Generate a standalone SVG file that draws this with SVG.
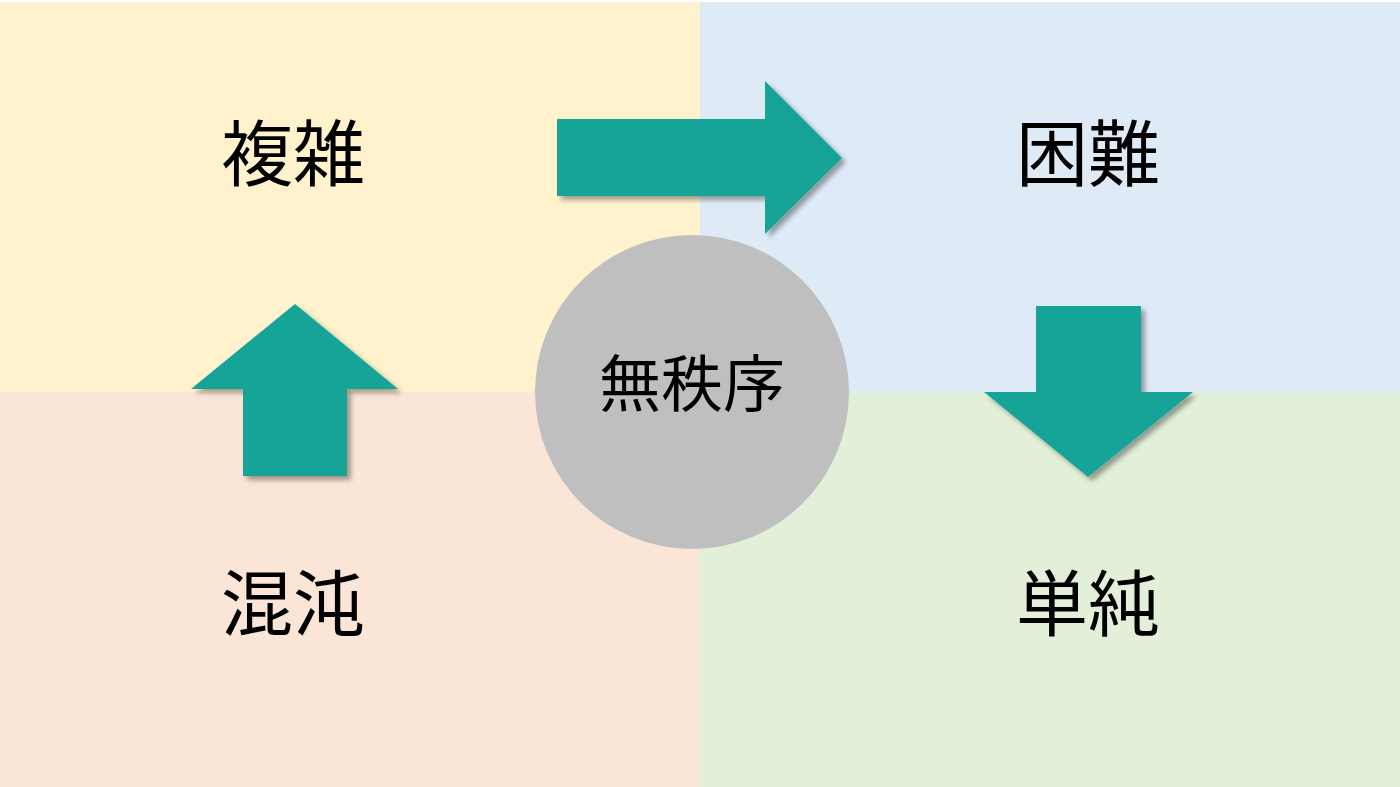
<svg xmlns="http://www.w3.org/2000/svg" width="1400" height="787" viewBox="0 0 1400 787">
<style>
.lbl{font-family:"Noto Sans CJK JP","Noto Sans CJK SC",sans-serif;fill:#000;text-anchor:middle}
.big{font-size:72px}
.mid{font-size:62px}
.arrow{fill:#17A398;filter:url(#sh)}
</style>
<defs>
<filter id="sh" x="-20%" y="-20%" width="140%" height="140%">
<feGaussianBlur in="SourceAlpha" stdDeviation="2.5"/>
<feOffset dx="4" dy="4" result="b"/>
<feFlood flood-color="#000" flood-opacity="0.35"/>
<feComposite in2="b" operator="in"/>
<feMerge><feMergeNode/><feMergeNode in="SourceGraphic"/></feMerge>
</filter>
</defs>
<rect width="1400" height="787" fill="#FFFFFF"/>
<g id="quadrants">
<rect x="0" y="2" width="700" height="390" fill="#FFF2CC"/>
<rect x="700" y="2" width="700" height="390" fill="#DEEBF7"/>
<rect x="0" y="392" width="700" height="395" fill="#FBE5D6"/>
<rect x="700" y="392" width="700" height="395" fill="#E2F0D9"/>
</g>
<g id="connectors">
<polygon class="arrow" points="557,119 765,119 765,81 842,158 765,234 765,196 557,196"/>
<polygon class="arrow" points="243,476 243,389 191,389 295,304 398,389 347,389 347,476"/>
<polygon class="arrow" points="1036,306 1141,306 1141,392 1193,392 1088,477 984,392 1036,392"/>
</g>
<g id="node-center">
<circle cx="692" cy="392" r="157" fill="#BFBFBF"/>
<text class="lbl mid" x="692" y="407">無秩序</text>
</g>
<g id="node-fukuzatsu"><text class="lbl big" x="293" y="180">複雑</text></g>
<g id="node-konnan"><text class="lbl big" x="1088" y="180">困難</text></g>
<g id="node-konton"><text class="lbl big" x="293" y="630">混沌</text></g>
<g id="node-tanjun"><text class="lbl big" x="1088" y="630">単純</text></g>
</svg>
